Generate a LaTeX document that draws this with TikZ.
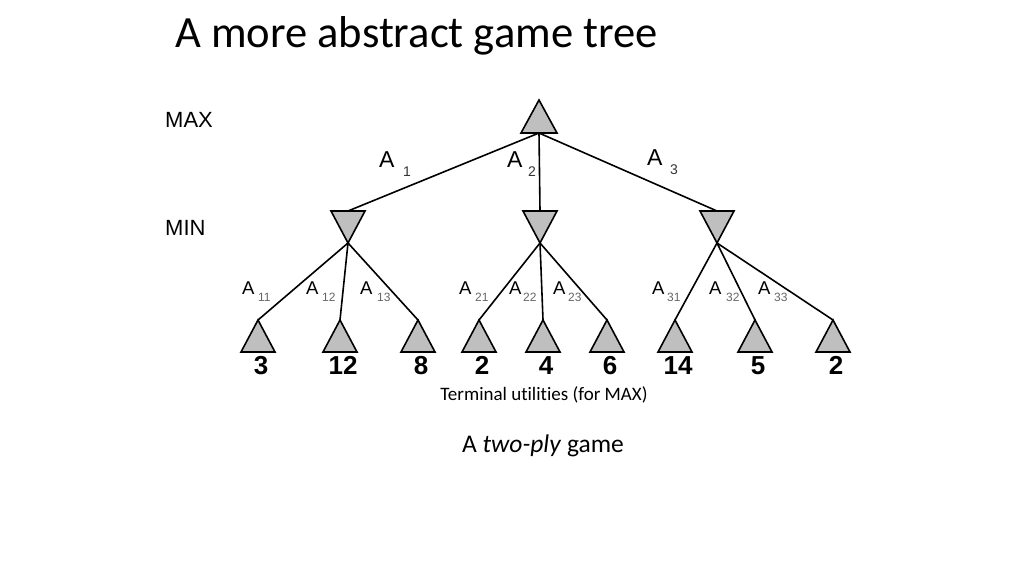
\documentclass[tikz,border=0pt]{standalone}
\usepackage{fontspec}
\setmainfont{Carlito}[Ligatures=NoCommon]
\newfontfamily\arialf{Liberation Sans}
\begin{document}
\begin{tikzpicture}[x=1pt,y=-1pt,
  edge/.style={line width=1.6pt,black},
  tri/.style={line width=1.6pt,fill=triGray,draw=black,line join=miter},
  lblA/.style={inner sep=0pt,font=\arialf\fontsize{23}{23}\selectfont,anchor=base west},
  lblS/.style={inner sep=0pt,font=\arialf\fontsize{14}{14}\selectfont,anchor=base west,text=black!80},
  lblAA/.style={inner sep=0pt,font=\arialf\fontsize{18.5}{18.5}\selectfont,anchor=base west},
  lblSS/.style={inner sep=0pt,font=\arialf\fontsize{12}{12}\selectfont,anchor=base west,text=black!60},
  num/.style={inner sep=0pt,font=\arialf\bfseries\fontsize{26}{26}\selectfont,anchor=base},
  lev/.style={inner sep=0pt,font=\arialf\fontsize{22}{22}\selectfont,anchor=base west}]
\definecolor{triGray}{gray}{0.75}
\useasboundingbox (0,0) rectangle (1024,576);
\node[inner sep=0pt,anchor=base west,font=\fontsize{44.6}{44.6}\selectfont] (title) at (175,47) {A more abstract game tree};
\node[lev] (max) at (165,127) {MAX};
\node[lev] (min) at (165,235) {MIN};
% root
\coordinate (r) at (539,133);
\draw[tri] (521,133) -- (539,100) -- (557,133) -- cycle;
% min nodes: top centre and bottom apex
\foreach \n/\x in {1/348,2/540,3/717}{
  \coordinate (m\n t) at (\x,211);
  \coordinate (m\n b) at (\x,243);
  \draw[tri] (\x-17,211) -- (\x+17,211) -- (\x,243) -- cycle;
}
% leaves
\foreach \n/\x/\v in {11/258/3,12/340/12,13/418/8,21/479/2,22/543/4,23/607/6,31/675/14,32/755/5,33/833/2}{
  \coordinate (l\n) at (\x,320);
  \draw[tri] (\x,320) -- (\x+17,352) -- (\x-17,352) -- cycle;
  \node[num] (v\n) at (\x+3,374) {\v};
}
\draw[edge] (r) -- (m1t);
\draw[edge] (r) -- (m2t);
\draw[edge] (r) -- (m3t);
\foreach \i in {1,2,3}{
  \foreach \j in {1,2,3}{
    \draw[edge] (m\i b) -- (l\i\j);
  }
}
% level-1 labels
\node[lblA] (a1) at (379,167) {A};
\node[lblS] (a1s) at (403,176) {1};
\node[lblA] (a2) at (507,167) {A};
\node[lblS] (a2s) at (528,176) {2};
\node[lblA] (a3) at (647,165) {A};
\node[lblS] (a3s) at (670,174) {3};
% level-2 labels
\foreach \n/\xa/\xs in {11/242/258,12/306/322,13/360/377,21/459/475,22/509/523,23/553/568,31/652/667,32/709/726,33/758/774}{
  \node[lblAA] (a\n) at (\xa,294) {A};
  \node[lblSS] (a\n s) at (\xs,301) {\n};
}
\node[inner sep=0pt,anchor=base,font=\fontsize{19}{19}\selectfont] (term) at (544,400) {Terminal utilities (for MAX)};
\node[inner sep=0pt,anchor=base,font=\fontsize{25.5}{25.5}\selectfont] (ply) at (543,452) {A \textit{two-ply} game};
\end{tikzpicture}
\end{document}
